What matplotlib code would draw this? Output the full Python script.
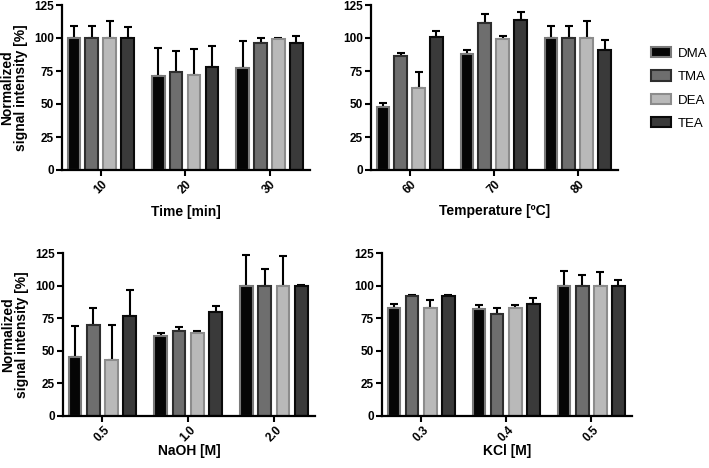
import numpy as np
import matplotlib
matplotlib.use("Agg")
import matplotlib.pyplot as plt
from matplotlib.patches import Patch

plt.rcParams['font.family'] = ['Liberation Sans', 'DejaVu Sans']

amines = ["DMA", "TMA", "DEA", "TEA"]
fills = ["#050505", "#6e6e6e", "#b9b9b9", "#3a3a3a"]
edges = ["#7a7a7a", "#2e2e2e", "#8c8c8c", "#0a0a0a"]

# Time [min]
time_labels = ["10", "20", "30"]
time_vals = [[100, 71, 77], [100, 74, 96], [100, 72, 99], [100, 78, 96.5]]
time_err = [[9, 21.5, 21], [9, 16, 4], [13, 20, 1], [8, 16, 5]]

# Temperature
temp_labels = ["60", "70", "80"]
temp_vals = [[48, 88, 100], [86, 111, 100], [62, 99, 100], [100.5, 114, 91]]
temp_err = [[2.5, 3, 9], [2.5, 7, 9], [12, 2.5, 13], [4.5, 6, 7.5]]

# NaOH
naoh_labels = ["0.5", "1.0", "2.0"]
naoh_vals = [[45, 61, 100], [70, 65, 100], [43, 64, 100], [77, 80, 100]]
naoh_err = [[24, 2.5, 23.5], [13, 3.5, 13], [27, 1.5, 22.5], [20, 4, 0.5]]

# KCl
kcl_labels = ["0.3", "0.4", "0.5"]
kcl_vals = [[83, 82, 100], [92, 78, 100], [83, 83, 100], [92, 86, 100]]
kcl_err = [[3, 3, 11], [0.7, 5, 8], [6, 2.5, 10.5], [1, 4.5, 4.5]]

W, H = 709, 468
fig = plt.figure(figsize=(W / 100, H / 100), dpi=100)

def px_axes(x0, x1, ytop, ybot):
    return fig.add_axes([x0 / W, 1 - ybot / H, (x1 - x0) / W, (ybot - ytop) / H])

def draw(ax, labels, vals, errs, xlabel, ylabel=None, labelpad=6):
    x = np.arange(len(labels))
    w = 0.15
    step = 0.213
    for i in range(4):
        pos = x + (i - 1.5) * step
        ax.bar(pos, vals[i], width=w, color=fills[i], edgecolor=edges[i],
               linewidth=1.5, zorder=2)
        ax.errorbar(pos, vals[i], yerr=[np.zeros(len(labels)), errs[i]],
                    fmt="none", ecolor="black", elinewidth=1.5, capsize=3,
                    capthick=1.5, zorder=1)
    ax.set_xlim(-0.46, len(labels) - 0.52)
    ax.set_ylim(0, 125)
    ax.set_yticks([0, 25, 50, 75, 100, 125])
    ax.set_xticks(x)
    ax.set_xticklabels(labels, rotation=45, fontweight="bold", fontsize=8.5)
    for lab in ax.get_yticklabels():
        lab.set_fontweight("bold")
        lab.set_fontsize(8.5)
    ax.spines["top"].set_visible(False)
    ax.spines["right"].set_visible(False)
    ax.spines["left"].set_linewidth(1.6)
    ax.spines["bottom"].set_linewidth(1.6)
    ax.tick_params(width=1.5, length=4, pad=2)
    ax.set_xlabel(xlabel, fontweight="bold", fontsize=10, labelpad=labelpad)
    if ylabel:
        ax.set_ylabel(ylabel, fontweight="bold", fontsize=10, linespacing=1.0)

ax1 = px_axes(62, 310, 5, 170)
ax2 = px_axes(371, 618, 5, 170)
ax3 = px_axes(63, 315, 253, 416)
ax4 = px_axes(382, 632, 253, 416)

ylab = "Normalized\nsignal intensity [%]"
draw(ax1, time_labels, time_vals, time_err, "Time [min]", ylab)
draw(ax2, temp_labels, temp_vals, temp_err, "Temperature [ºC]")
draw(ax3, naoh_labels, naoh_vals, naoh_err, "NaOH [M]", ylab, labelpad=0)
draw(ax4, kcl_labels, kcl_vals, kcl_err, "KCl [M]", labelpad=0)

handles = [Patch(facecolor=fills[i], edgecolor=edges[i], linewidth=1.5, label=amines[i])
           for i in range(4)]
fig.legend(handles=handles, loc="upper left", bbox_to_anchor=(651 / W, 1 - 47 / H),
           frameon=False, fontsize=9.5, handlelength=1.5, handleheight=0.8,
           labelspacing=0.82, handletextpad=0.5, borderpad=0, borderaxespad=0)

fig.savefig("out.png", dpi=100)
